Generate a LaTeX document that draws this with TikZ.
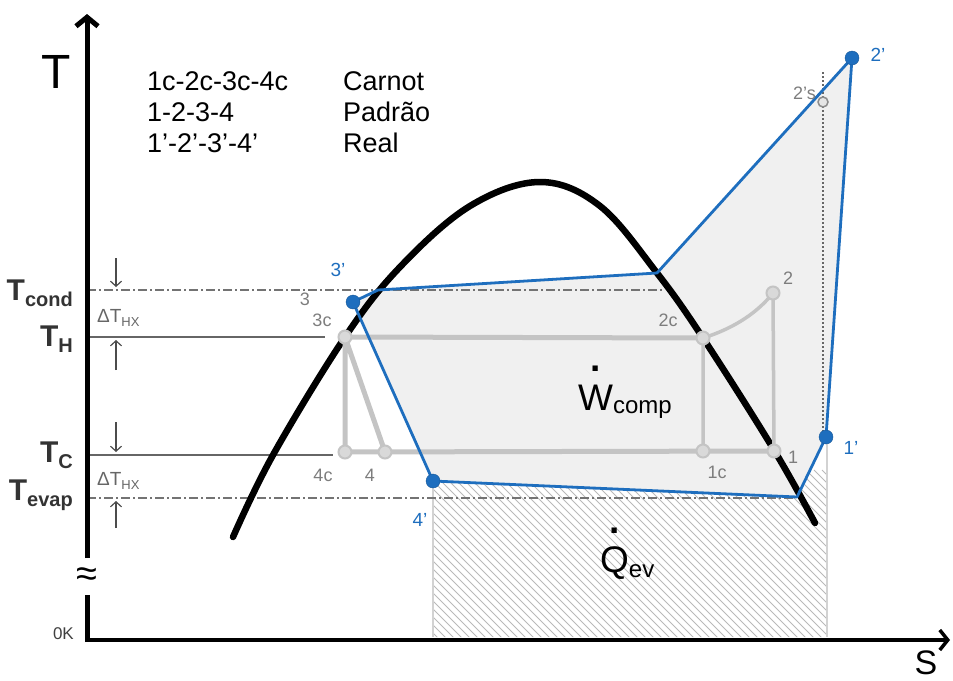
\documentclass[tikz,border=0pt]{standalone}
\usepackage{fontspec}
\setmainfont{Liberation Sans}
\usetikzlibrary{arrows.meta}
\definecolor{cycblue}{RGB}{30,110,190}
\definecolor{cycgray}{RGB}{196,196,196}
\definecolor{areagray}{RGB}{240,240,240}
\definecolor{labgray}{RGB}{125,125,125}
\newcommand{\fs}[1]{\fontsize{#1}{#1}\selectfont}
\newcommand{\Tlab}[1]{{\fs{30}\bfseries T}\raisebox{-6pt}{\fs{20}\bfseries #1}}
\newcommand{\dTHX}{{\fs{19}ΔT}\raisebox{-4pt}{\fs{13}HX}}
\newcommand{\dotover}[1]{\ooalign{#1\cr\hidewidth\raisebox{1.05em}{\bfseries .}\hidewidth\cr}}
\begin{document}
\begin{tikzpicture}[x=1pt,y=-1pt,
  bdot/.style={circle,fill=cycblue,draw=cycblue!80!black,inner sep=0pt,minimum size=14pt},
  gdot/.style={circle,fill=black!15,draw=cycgray,line width=2pt,inner sep=0pt,minimum size=13pt},
  gline/.style={cycgray,line width=5pt},
  bline/.style={cycblue,line width=2.8pt,line join=round},
  glab/.style={text=labgray,font=\fs{18},inner sep=0pt},
  blab/.style={text=cycblue,font=\fs{19},inner sep=0pt},
  tlab/.style={anchor=base east,text=black!80,inner sep=0pt},
  legend/.style={anchor=base west,font=\fs{27},inner sep=0pt},
  dashdot/.style={black!55,line width=1.4pt,dash pattern=on 9pt off 3pt on 2pt off 3pt},
  arr/.style={-{Straight Barb[length=5pt,width=11pt]},line width=1.2pt,black!70}
]
\useasboundingbox (0,0) rectangle (953,680);

% cycle points
\coordinate (p1c) at (703,451);
\coordinate (p2c) at (703,338);
\coordinate (p3c) at (345,337);
\coordinate (p4c) at (345,452);
\coordinate (p1) at (774,451);
\coordinate (p2) at (773,293);
\coordinate (p4) at (385,452);
\coordinate (p1r) at (826,437);
\coordinate (p2r) at (852,58);
\coordinate (p2s) at (823,102);
\coordinate (p3r) at (353,302);
\coordinate (p4r) at (433,481);
\coordinate (k1) at (797,497);
\coordinate (k2) at (657,273);
\coordinate (k3) at (378,290);

% work and heat areas
\fill[areagray] (p3r) -- (k3) -- (k2) -- (p2r) -- (p1r) -- (k1) -- (p4r) -- cycle;
\begin{scope}
  \clip (p4r) -- (k1) -- (p1r) -- (827,637) -- (433,637) -- cycle;
  \foreach \i in {0,...,72}
    \draw[gray!55,line width=0.9pt] (270+\i*8,470) -- ++(175,175);
\end{scope}
\draw[gray!35,line width=1.5pt] (433,481) -- (433,637);
\draw[gray!35,line width=1.5pt] (827,437) -- (827,637);
\draw[black!60,line width=2pt,dash pattern=on 2pt off 2pt] (823,72) -- (p2s);
\draw[black!60,line width=2pt,dash pattern=on 2pt off 2pt] (p2s) -- (823,436);

% temperature levels
\draw[dashdot] (87,290) -- (662,290);
\draw[black!60,line width=1.5pt] (87,337) -- (325,337);
\draw[black!60,line width=1.5pt] (87,455) -- (333,455);
\draw[dashdot] (87,498) -- (795,498);

% saturation dome
\draw[line width=6.5pt,line cap=round] plot[smooth,tension=0.6] coordinates {
  (233,537) (273,455) (345,337) (400,267) (470,206) (540,182)
  (600,206) (657,273) (703,338) (774,450) (815,523)};

% Carnot and standard cycle
\draw[gline] (p3c) -- (p2c) (p3c) -- (p4c) -- (p1) (p3c) -- (p4);
\draw[gline,line width=3.5pt] (p2c) -- (p1c) (p2) -- (p1);
\draw[gline,line width=3.5pt] (p2c) .. controls (735,328) and (758,312) .. (p2);

% real cycle
\draw[bline] (p3r) -- (k3) -- (k2) -- (p2r) -- (p1r) -- (k1) -- (p4r) -- cycle;

% axes
\draw[line width=5pt] (87,642) -- (87,595);
\draw[line width=5pt,-{Straight Barb[length=9pt,width=22pt]}] (87,558) -- (87,14);
\draw[line width=3.5pt,-{Straight Barb[length=8pt,width=20pt]}] (85,640) -- (950,640);

% dots
\node[gdot] (d3c) at (p3c) {};
\node[gdot] (d4c) at (p4c) {};
\node[gdot] (d4) at (p4) {};
\node[gdot] (d1c) at (p1c) {};
\node[gdot] (d2c) at (p2c) {};
\node[gdot] (d1) at (p1) {};
\node[gdot] (d2) at (p2) {};
\node[circle,fill=black!10,draw=black!45,line width=1.5pt,inner sep=0pt,minimum size=10pt] (d2s) at (p2s) {};
\node[bdot] (d3r) at (p3r) {};
\node[bdot] (d4r) at (p4r) {};
\node[bdot] (d1r) at (p1r) {};
\node[bdot] (d2r) at (p2r) {};

% point labels
\node[glab] (l3c) at (322,320) {3c};
\node[glab] (l3) at (305,299) {3};
\node[glab] (l4c) at (323,475) {4c};
\node[glab] (l4) at (370,475) {4};
\node[glab] (l1c) at (717,472) {1c};
\node[glab] (l1) at (793,457) {1};
\node[glab] (l2c) at (668,320) {2c};
\node[glab] (l2) at (788,278) {2};
\node[glab,anchor=east] (l2s) at (816,93) {2's};
\node[blab] (l3r) at (338,270) {3'};
\node[blab] (l4r) at (420,520) {4'};
\node[blab] (l1r) at (851,448) {1'};
\node[blab] (l2r) at (878,55) {2'};

% axis labels
\node[font=\fs{48},inner sep=0pt] (tax) at (56,72) {T};
\node[font=\fs{34},inner sep=0pt] (sax) at (926,663) {S};
\node[font=\fs{38},inner sep=0pt] (brk) at (87,577) {≈};
\node[font=\fs{17},anchor=east,text=black!75,inner sep=0pt] (zero) at (74,634) {0K};

% temperature labels
\node[tlab] (tcond) at (73,300) {\Tlab{cond}};
\node[tlab] (th) at (73,346) {\Tlab{H}};
\node[tlab] (tc) at (73,462) {\Tlab{C}};
\node[tlab] (tevap) at (73,500) {\Tlab{evap}};
\node[anchor=base west,text=black!60,inner sep=0pt] (dhx1) at (97,322) {\dTHX};
\node[anchor=base west,text=black!60,inner sep=0pt] (dhx2) at (97,485) {\dTHX};
\coordinate (a1s) at (116,258);
\coordinate (a1e) at (116,287);
\coordinate (a2s) at (116,370);
\coordinate (a2e) at (116,340);
\coordinate (a3s) at (116,422);
\coordinate (a3e) at (116,452);
\coordinate (a4s) at (116,528);
\coordinate (a4e) at (116,501);
\draw[arr] (a1s) -- (a1e);
\draw[arr] (a2s) -- (a2e);
\draw[arr] (a3s) -- (a3e);
\draw[arr] (a4s) -- (a4e);

% legend
\node[legend] (lg1) at (147,90) {1c-2c-3c-4c};
\node[legend] (lg2) at (147,121) {1-2-3-4};
\node[legend] (lg3) at (147,152) {1'-2'-3'-4'};
\node[legend] (lg1n) at (343,90) {Carnot};
\node[legend] (lg2n) at (343,121) {Padrão};
\node[legend] (lg3n) at (343,152) {Real};

% energy labels
\node[anchor=base west,inner sep=0pt] (wcomp) at (578,410) {\fs{37}\dotover{W}\fs{24}\raisebox{-3pt}{comp}};
\node[anchor=base west,inner sep=0pt] (qev) at (600,572) {\fs{37}\dotover{Q}\fs{24}\raisebox{-5pt}{ev}};
\end{tikzpicture}
\end{document}
